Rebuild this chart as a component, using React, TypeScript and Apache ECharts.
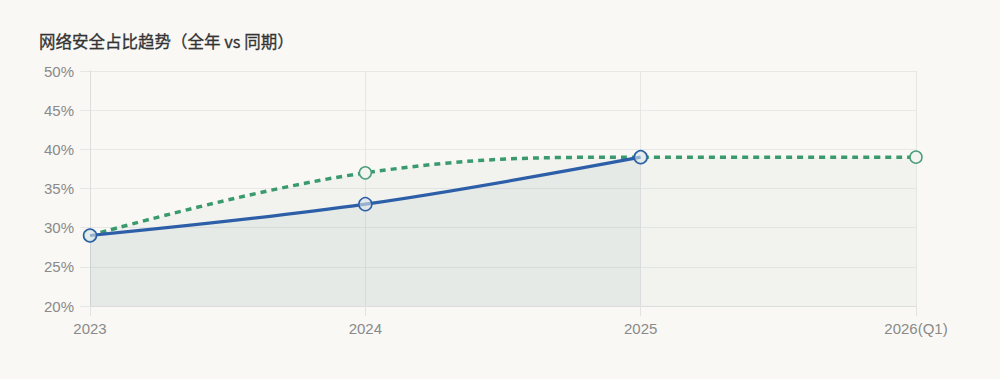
import React, { useEffect, useRef } from "react";
import * as echarts from "echarts";

const categories = ["2023", "2024", "2025", "2026(Q1)"];
const fullYear = [29, 33, 39, null];
const samePeriod = [29, 37, 39, 39];
const yTicks = { min: 20, max: 50, interval: 5 };

export default function App() {
  const ref = useRef<HTMLDivElement>(null);
  useEffect(() => {
    const chart = echarts.init(ref.current!, null, { renderer: "svg" });
    chart.setOption({
      animation: false,
      backgroundColor: "#f9f8f5",
      title: {
        text: "网络安全占比趋势（全年 vs 同期）",
        left: 34,
        top: 28,
        textStyle: {
          fontSize: 16.5,
          fontWeight: "normal",
          color: "#333",
          fontFamily: "Noto Sans CJK SC",
          textBorderColor: "#333",
          textBorderWidth: 0.3,
        },
      },
      grid: { left: 90, right: 84, top: 71, bottom: 73 },
      xAxis: {
        type: "category",
        data: categories,
        boundaryGap: false,
        axisLine: { show: true, lineStyle: { color: "#ddd" } },
        axisTick: { show: true, length: 10, lineStyle: { color: "#e2e2e2" } },
        axisLabel: { color: "#8a8a8a", fontSize: 15, margin: 15, fontFamily: "Liberation Sans" },
        splitLine: { show: true, lineStyle: { color: "#e6e6e6" } },
      },
      yAxis: {
        type: "value",
        min: yTicks.min,
        max: yTicks.max,
        interval: yTicks.interval,
        axisLine: { show: true, lineStyle: { color: "#ddd" } },
        axisTick: { show: true, length: 10, lineStyle: { color: "#e6e6e6" } },
        axisLabel: { color: "#8a8a8a", fontSize: 15, margin: 16, formatter: "{value}%", fontFamily: "Liberation Sans" },
        splitLine: { show: true, lineStyle: { color: "#e8e8e8" } },
      },
      series: [
        {
          name: "同期",
          type: "line",
          data: samePeriod,
          smooth: 0.4,
          symbol: "circle",
          symbolSize: 12,
          itemStyle: { color: "#f3f4f0", borderColor: "#4a9e78", borderWidth: 1.5 },
          lineStyle: { color: "#3a9a6e", width: 3.5, type: [6, 5] },
          areaStyle: { color: "rgba(90,130,110,0.06)" },
          z: 2,
        },
        {
          name: "全年",
          type: "line",
          data: fullYear,
          smooth: 0.35,
          symbol: "circle",
          symbolSize: 13,
          itemStyle: { color: "rgba(220,230,232,0.6)", borderColor: "#2d5fa8", borderWidth: 1.5 },
          lineStyle: { color: "#2d5fa8", width: 3.2 },
          areaStyle: { color: "rgba(30,100,125,0.085)" },
          z: 3,
        },
      ],
    });
    return () => chart.dispose();
  }, []);
  return <div ref={ref} style={{ position: "fixed", left: 0, top: 0, width: 1000, height: 379 }} />;
}
